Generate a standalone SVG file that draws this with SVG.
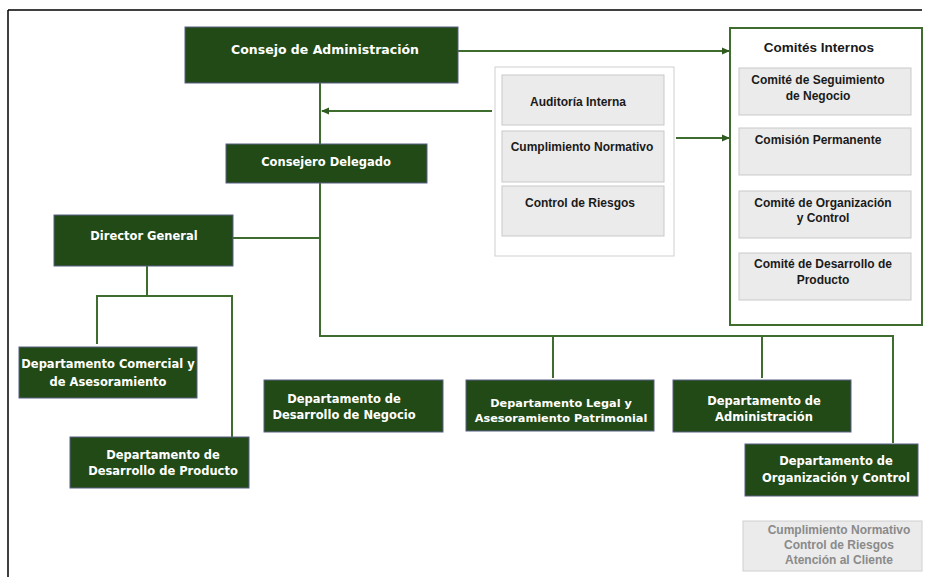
<svg xmlns="http://www.w3.org/2000/svg" width="927" height="578" viewBox="0 0 927 578">
<defs>
<style>
.g{fill:#214a16;stroke:#5a5f86;stroke-width:1}
.gt{fill:#fff;font-family:"DejaVu Sans","Liberation Sans",sans-serif;font-weight:bold;font-size:11.5px;text-anchor:middle}
.box{fill:#ebebeb;stroke:#c9c9c9;stroke-width:1}
.bt{fill:#1a1a1a;font-family:"Liberation Sans",Arial,sans-serif;font-weight:bold;font-size:12px;text-anchor:middle}
.c{fill:none;stroke:#3f6c2f;stroke-width:2}
</style>
<marker id="ah" markerWidth="8" markerHeight="8" refX="7" refY="4" orient="auto" markerUnits="userSpaceOnUse">
<path d="M0,0.5 L8,4 L0,7.5 Z" fill="#2f5a20"/>
</marker>
</defs>
<rect x="0" y="0" width="927" height="578" fill="#fff"/>
<path d="M8,10 H922 M8,10 V577" fill="none" stroke="#000" stroke-width="1.5"/>

<g id="connectors">
<path class="c" d="M320,83 V144"/>
<path class="c" d="M492,111 H322" marker-end="url(#ah)"/>
<path class="c" d="M458,51 H729" marker-end="url(#ah)"/>
<path class="c" d="M676,138 H729" marker-end="url(#ah)"/>
<path class="c" d="M320,183 V336 H893 V443"/>
<path class="c" d="M233,238 H320"/>
<path class="c" d="M147,266 V296 M97,344 V296 H232 V437"/>
<path class="c" d="M553,336 V378 M762,336 V378"/>
</g>

<g id="consejo">
<rect class="g" x="185" y="27" width="273" height="56"/>
<text class="gt" x="325" y="54" style="font-size:12.5px">Consejo de Administración</text>
</g>
<g id="delegado">
<rect class="g" x="226" y="144" width="201" height="39"/>
<text class="gt" x="326" y="166">Consejero Delegado</text>
</g>
<g id="director">
<rect class="g" x="54" y="215" width="179" height="51"/>
<text class="gt" x="144" y="240">Director General</text>
</g>
<g id="comercial">
<rect class="g" x="19" y="347" width="178" height="51"/>
<text class="gt" x="108" y="368">Departamento Comercial y</text>
<text class="gt" x="108" y="386">de Asesoramiento</text>
</g>
<g id="producto">
<rect class="g" x="70" y="437" width="179" height="51"/>
<text class="gt" x="163" y="459">Departamento de</text>
<text class="gt" x="163" y="475">Desarrollo de Producto</text>
</g>
<g id="negocio">
<rect class="g" x="264" y="380" width="179" height="52"/>
<text class="gt" x="344" y="403">Departamento de</text>
<text class="gt" x="344" y="419">Desarrollo de Negocio</text>
</g>
<g id="legal">
<rect class="g" x="466" y="380" width="188" height="51"/>
<text class="gt" x="561" y="407" style="font-size:11.3px">Departamento Legal y</text>
<text class="gt" x="561" y="422" style="font-size:11.3px">Asesoramiento Patrimonial</text>
</g>
<g id="administracion">
<rect class="g" x="673" y="380" width="178" height="52"/>
<text class="gt" x="764" y="405">Departamento de</text>
<text class="gt" x="764" y="421">Administración</text>
</g>
<g id="organizacion">
<rect class="g" x="745" y="444" width="173" height="52"/>
<text class="gt" x="836" y="465">Departamento de</text>
<text class="gt" x="836" y="482">Organización y Control</text>
</g>

<g id="control-interno">
<rect x="495" y="67" width="179" height="189" fill="#fff" stroke="#cfcfcf" stroke-width="1"/>
<rect class="box" x="502" y="75" width="162" height="50"/>
<text class="bt" x="578" y="106">Auditoría Interna</text>
<rect class="box" x="502" y="131" width="162" height="51"/>
<text class="bt" x="582" y="151">Cumplimiento Normativo</text>
<rect class="box" x="502" y="186" width="162" height="50"/>
<text class="bt" x="580" y="207">Control de Riesgos</text>
</g>

<g id="comites">
<rect x="730" y="28" width="192" height="297" fill="#fff" stroke="#3f6c2f" stroke-width="2"/>
<text class="bt" x="819" y="52" style="font-size:13.5px">Comités Internos</text>
<rect class="box" x="739" y="68" width="172" height="47"/>
<text class="bt" x="818" y="84">Comité de Seguimiento</text>
<text class="bt" x="818" y="100">de Negocio</text>
<rect class="box" x="739" y="128" width="172" height="47"/>
<text class="bt" x="818" y="144">Comisión Permanente</text>
<rect class="box" x="739" y="191" width="172" height="47"/>
<text class="bt" x="823" y="207">Comité de Organización</text>
<text class="bt" x="823" y="222">y Control</text>
<rect class="box" x="739" y="253" width="172" height="47"/>
<text class="bt" x="823" y="268">Comité de Desarrollo de</text>
<text class="bt" x="823" y="284">Producto</text>
</g>

<g id="nota">
<rect x="743" y="521" width="179" height="50" fill="#ebebeb" stroke="#d0d0d0" stroke-width="1"/>
<text class="bt" x="839" y="534" style="fill:#8a8a8a">Cumplimiento Normativo</text>
<text class="bt" x="839" y="549" style="fill:#8a8a8a">Control de Riesgos</text>
<text class="bt" x="839" y="564" style="fill:#8a8a8a">Atención al Cliente</text>
</g>
</svg>
